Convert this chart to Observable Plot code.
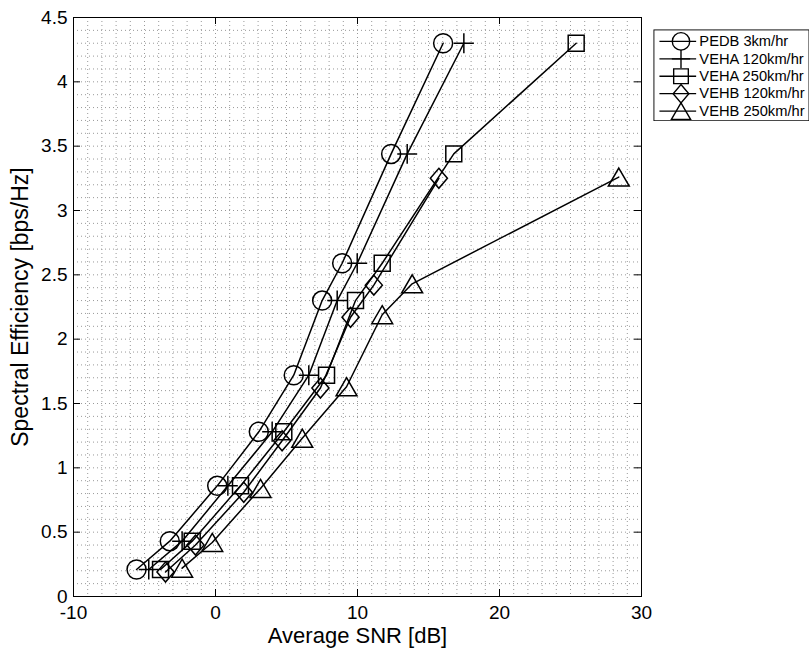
<!DOCTYPE html>
<html><head><meta charset="utf-8">
<script src="https://cdn.jsdelivr.net/npm/d3@7"></script>
<script src="https://cdn.jsdelivr.net/npm/@observablehq/plot@0.6"></script>
<style>
body{margin:0;background:#fff;}
#wrap{position:relative;width:809px;height:652px;overflow:hidden;background:#fff;}
#legend{position:absolute;left:653px;top:29px;}
</style></head><body><div id="wrap"><div id="main"></div><div id="legend"></div></div>
<script>
const seriesNames = ["PEDB 3km/hr","VEHA 120km/hr","VEHA 250km/hr","VEHB 120km/hr","VEHB 250km/hr"];
const pedbX = [-5.56, -3.22, 0.12, 3.05, 5.51, 7.51, 8.92, 12.37, 16.03];
const pedbY = [0.21, 0.43, 0.86, 1.28, 1.72, 2.30, 2.59, 3.44, 4.30];
const vehA120X = [-4.70, -2.35, 0.87, 3.99, 6.57, 8.57, 9.98, 13.50, 17.49];
const vehA120Y = [0.21, 0.43, 0.86, 1.28, 1.72, 2.30, 2.59, 3.44, 4.30];
const vehA250X = [-3.87, -1.64, 1.76, 4.81, 7.82, 9.86, 11.74, 16.78, 25.40];
const vehA250Y = [0.21, 0.43, 0.86, 1.28, 1.72, 2.30, 2.59, 3.44, 4.30];
const vehB120X = [-3.52, -1.41, 1.99, 4.69, 7.39, 9.51, 11.15, 15.73];
const vehB120Y = [0.19, 0.40, 0.81, 1.21, 1.62, 2.17, 2.42, 3.25];
const vehB250X = [-2.35, -0.23, 3.17, 6.11, 9.23, 11.74, 13.85, 28.40];
const vehB250Y = [0.22, 0.42, 0.84, 1.23, 1.63, 2.19, 2.43, 3.26];

const xTicks = [-10, 0, 10, 20, 30];
const yTicks = [0, 0.5, 1, 1.5, 2, 2.5, 3, 3.5, 4, 4.5];
const xMinor = d3.range(-9, 30, 1);
const yMinor = d3.range(1, 45).map(i => i / 10);

const R = s => Math.sqrt(s / Math.PI);
const symCircle = {draw(c, s){ const r = R(s); c.moveTo(r, 0); c.arc(0, 0, r, 0, 2 * Math.PI); }};
const symPlus = {draw(c, s){ const r = R(s) * 1.05; c.moveTo(-r, 0); c.lineTo(r, 0); c.moveTo(0, -r); c.lineTo(0, r); }};
const symSquare = {draw(c, s){ const r = R(s) * 0.84; c.moveTo(-r, -r); c.lineTo(r, -r); c.lineTo(r, r); c.lineTo(-r, r); c.closePath(); }};
const symDiamond = {draw(c, s){ const r = R(s); const w = r * 0.9, h = r * 1.05; c.moveTo(0, -h); c.lineTo(w, 0); c.lineTo(0, h); c.lineTo(-w, 0); c.closePath(); }};
const symTriangle = {draw(c, s){ const r = R(s); const w = r * 1.1, h = r * 0.95; c.moveTo(0, -h); c.lineTo(w, h); c.lineTo(-w, h); c.closePath(); }};
const symbols = [symCircle, symPlus, symSquare, symDiamond, symTriangle];

const series = [
  {x: pedbX, y: pedbY},
  {x: vehA120X, y: vehA120Y},
  {x: vehA250X, y: vehA250Y},
  {x: vehB120X, y: vehB120Y},
  {x: vehB250X, y: vehB250Y}
].map((s, i) => ({name: seriesNames[i], symbol: symbols[i], data: s.x.map((x, j) => ({x, y: s.y[j]}))}));

const W = 809, H = 652, mL = 73, mR = 168, mT = 17, mB = 56;
const plotW = W - mL - mR, plotH = H - mT - mB, tickLen = 7;
const font = "'Liberation Sans', Arial, Helvetica, sans-serif";

const chart = Plot.plot({
  width: W, height: H, marginLeft: mL, marginRight: mR, marginTop: mT, marginBottom: mB,
  x: {domain: [-10, 30], axis: null},
  y: {domain: [0, 4.5], axis: null},
  style: {fontFamily: font, background: "white", color: "black"},
  marks: [
    Plot.ruleX(xMinor, {stroke: "#999", strokeDasharray: "1,3", strokeWidth: 1}),
    Plot.ruleY(yMinor, {stroke: "#999", strokeDasharray: "1,3", strokeWidth: 1}),
    ...series.flatMap(s => [
      Plot.line(s.data, {x: "x", y: "y", stroke: "black", strokeWidth: 1.5}),
      Plot.dot(s.data, {x: "x", y: "y", symbol: s.symbol, r: 9.5, stroke: "black", fill: "none", strokeWidth: 1.5})
    ]),
    Plot.ruleX(xTicks, {stroke: "black", insetTop: plotH - tickLen}),
    Plot.ruleX(xTicks, {stroke: "black", insetBottom: plotH - tickLen}),
    Plot.ruleY(yTicks, {stroke: "black", insetRight: plotW - tickLen}),
    Plot.ruleY(yTicks, {stroke: "black", insetLeft: plotW - tickLen}),
    Plot.frame({stroke: "black"}),
    Plot.text(xTicks, {x: d => d, text: d => String(d), frameAnchor: "bottom", lineAnchor: "top", dy: 9, fontSize: 19, fill: "black"}),
    Plot.text(yTicks, {y: d => d, text: d => String(d), frameAnchor: "left", textAnchor: "end", dx: -6, fontSize: 19, fill: "black"}),
    Plot.text(["Average SNR [dB]"], {frameAnchor: "bottom", lineAnchor: "middle", textAnchor: "middle", dy: 39, fontSize: 22, fill: "black"}),
    Plot.text(["Spectral Efficiency [bps/Hz]"], {frameAnchor: "left", lineAnchor: "middle", textAnchor: "middle", rotate: -90, dx: -53, fontSize: 23, fill: "black"})
  ]
});
document.getElementById("main").appendChild(chart);

const legend = Plot.plot({
  width: 170, height: 100, margin: 0,
  x: {axis: null},
  y: {type: "point", domain: seriesNames, range: [11.7, 89.7], padding: 0, axis: null},
  style: {fontFamily: font, background: "white", color: "black"},
  marks: [
    Plot.frame({inset: 0.5, stroke: "black", fill: "white"}),
    Plot.ruleY(seriesNames, {y: d => d, insetLeft: 7, insetRight: 123, stroke: "black", strokeWidth: 1.5}),
    ...seriesNames.map((n, i) => Plot.dot([n], {y: d => d, frameAnchor: "left", dx: 30, symbol: symbols[i], r: 9.5, stroke: "black", fill: "none", strokeWidth: 1.5})),
    Plot.text(seriesNames, {y: d => d, frameAnchor: "left", dx: 50, textAnchor: "start", fontSize: 16, fill: "black"})
  ]
});
document.getElementById("legend").appendChild(legend);
</script></body></html>
